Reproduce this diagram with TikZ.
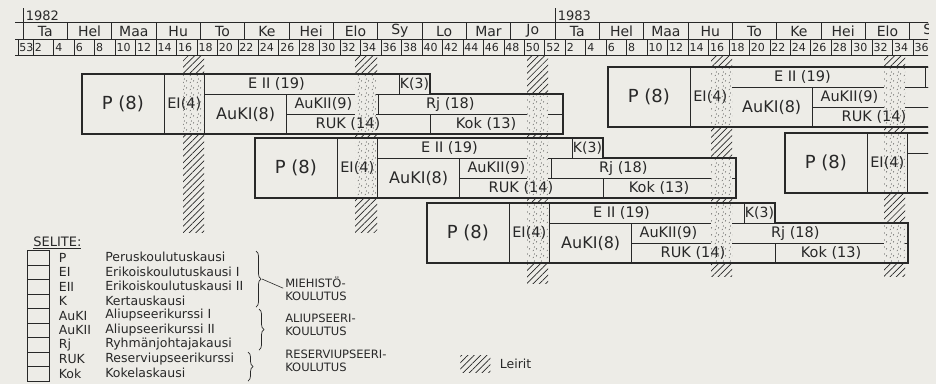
\documentclass[tikz,border=0pt]{standalone}
\usepackage{fontspec}
\setmainfont{DejaVu Sans}
\usepackage{tikz}
\usetikzlibrary{positioning, calc, patterns.meta, decorations.pathreplacing}
\definecolor{tausta}{RGB}{237,236,231}
\definecolor{muste}{RGB}{40,40,40}
\newcommand{\vk}{10.23}
\pgfdeclarepattern{
  name=pisteet,
  bottom left={\pgfpoint{0pt}{0pt}},
  top right={\pgfpoint{7pt}{7pt}},
  tile size={\pgfpoint{7pt}{7pt}},
  code={
    \pgfsetlinewidth{0.5pt}
    \pgfpathmoveto{\pgfpoint{1pt}{1pt}}\pgfpathlineto{\pgfpoint{1.8pt}{2.4pt}}
    \pgfpathmoveto{\pgfpoint{4.6pt}{2.8pt}}\pgfpathlineto{\pgfpoint{5.4pt}{4.2pt}}
    \pgfpathmoveto{\pgfpoint{2.2pt}{4.8pt}}\pgfpathlineto{\pgfpoint{3pt}{6.2pt}}
    \pgfusepath{stroke}
  }
}

\begin{document}
\begin{tikzpicture}[x=1pt, y=-1pt, color=muste, line width=0.6pt,
            kurssi/.style={draw=muste, fill=tausta, line width=0.6pt, inner sep=0pt, outer sep=0pt, anchor=north west, minimum height=20pt},
            nimi/.style={inner sep=0pt, font=\fontsize{14.5}{15}\selectfont},
            reuna/.style={draw=muste, line width=1.4pt, line join=miter},
            leiri/.style={pattern={Lines[angle=45,distance=4.5pt,line width=0.7pt]}, pattern color=muste},
            pilkut/.style={pattern=pisteet, pattern color=muste!80},
            kuukausi/.style={inner sep=0pt, font=\fontsize{14}{14}\selectfont},
            viikko/.style={inner sep=0pt, anchor=west, font=\fontsize{11}{11}\selectfont},
            selite/.style={inner sep=0pt, anchor=west, font=\fontsize{12.5}{13}\selectfont},
            ryhma/.style={inner sep=0pt, anchor=west, align=left, font=\fontsize{11.5}{12.5}\selectfont},
            sulku/.style={decorate, decoration={brace, amplitude=5pt}, line width=0.7pt}
        ]

            \fill[tausta] (0,0) rectangle (936,384);
            \clip (0,0) rectangle (928,384);

% Year and month row
            \draw[line width=1pt] (15,22) -- (936,22);
            \draw (15,39) -- (936,39);
            \draw[line width=1pt] (15,55) -- (936,55);
            \draw[line width=0.9pt] (23,8) -- (23,39);
            \draw[line width=0.9pt] (555,8) -- (555,39);
            \node[inner sep=0pt, anchor=south west, font=\fontsize{13}{13}\selectfont] (v1982) at (25.5,20.5) {1982};
            \node[inner sep=0pt, anchor=south west, font=\fontsize{13}{13}\selectfont] (v1983) at (557.5,20.5) {1983};

            \foreach \i/\m in {0/Ta,1/Hel,2/Maa,3/Hu,4/To,5/Ke,6/Hei,7/Elo,8/Sy,9/Lo,10/Mar,11/Jo} {
                \draw ({23+44.33*\i},22) -- ({23+44.33*\i},39);
                \node[kuukausi] (kk82-\i) at ({45.2+44.33*\i},31) {\m};
            }
            \foreach \i/\m in {0/Ta,1/Hel,2/Maa,3/Hu,4/To,5/Ke,6/Hei,7/Elo,8/Sy} {
                \draw ({555+44.33*\i},22) -- ({555+44.33*\i},39);
                \node[kuukausi] (kk83-\i) at ({577.2+44.33*\i},31) {\m};
            }

% Week row
            \draw (18,39) -- (18,55);
            \node[viikko] (vk82-0) at (19,47.5) {53};
            \foreach \k in {1,...,26} {
                \pgfmathtruncatemacro\nro{2*\k}
                \draw ({23+\vk*(2*\k-1)},39) -- ({23+\vk*(2*\k-1)},55);
                \node[viikko] (vk82-\k) at ({24.3+\vk*(2*\k-1)},47.5) {\nro};
            }
            \foreach \k in {1,...,18} {
                \pgfmathtruncatemacro\nro{2*\k}
                \draw ({555+\vk*(2*\k-1)},39) -- ({555+\vk*(2*\k-1)},55);
                \node[viikko] (vk83-\k) at ({556.3+\vk*(2*\k-1)},47.5) {\nro};
            }

% Camps
            \fill[leiri] (183,55) rectangle (204,232);
            \fill[leiri] (355,55) rectangle (377,232);
            \fill[leiri] (527,55) rectangle (548,283);
            \fill[leiri] (711,55) rectangle (732,276);
            \fill[leiri] (884,55) rectangle (905,276);

% Training blocks
            \foreach \k/\sx/\sy in {a/82/74, b/255/138, c/427/203, d/608/67, e/785/133} {
                \node[kurssi, minimum width=8*\vk pt, minimum height=60pt] (P\k) at (\sx,\sy) {};
                \node[kurssi, minimum width=4*\vk pt, minimum height=60pt] (EI\k) at (P\k.north east) {};
                \node[kurssi, minimum width=19*\vk pt] (EII\k) at (EI\k.north east) {};
                \node[kurssi, minimum width=3*\vk pt] (K\k) at (EII\k.north east) {};
                \node[kurssi, minimum width=8*\vk pt, minimum height=40pt] (AuKI\k) at (EII\k.south west) {};
                \node[kurssi, minimum width=9*\vk pt] (AuKII\k) at (AuKI\k.north east) {};
                \node[kurssi, minimum width=18*\vk pt] (Rj\k) at (AuKII\k.north east) {};
                \node[kurssi, minimum width=14*\vk pt] (RUK\k) at (AuKII\k.south west) {};
                \node[kurssi, minimum width=13*\vk pt] (Kok\k) at (RUK\k.north east) {};
                \begin{scope}
                    \clip (P\k.north west) -- (K\k.north east) -- (K\k.south east) -- (Rj\k.north east) -- (Kok\k.south east) -- (P\k.south west) -- cycle;
                    \foreach \lx in {183,355,527,711,884} {
                        \fill[tausta] (\lx,0) rectangle (\lx+21,384);
                        \fill[pilkut] (\lx,0) rectangle (\lx+21,384);
                    }
                \end{scope}
                \draw[reuna] (P\k.north west) -- (K\k.north east) -- (K\k.south east) -- (Rj\k.north east) -- (Kok\k.south east) -- (P\k.south west) -- cycle;
            }

% Block labels
            \begin{scope}
                \clip (0,0) rectangle (915,384);
                \foreach \k in {a,b,c,d,e} {
                    \node[nimi, font=\fontsize{18}{18}\selectfont] (Pt\k) at (P\k.center) {P (8)};
                    \node[nimi] (EIt\k) at (EI\k.center) {EI(4)};
                    \node[nimi] (EIIt\k) at ($(EII\k.west)+(7*\vk,0)$) {E II (19)};
                    \node[nimi, font=\fontsize{14}{14}\selectfont] (Kt\k) at (K\k.center) {K(3)};
                    \node[nimi, font=\fontsize{16}{16}\selectfont] (AuKIt\k) at (AuKI\k.center) {AuKI(8)};
                    \node[nimi] (AuKIIt\k) at ($(AuKII\k.west)+(3.6*\vk,0)$) {AuKII(9)};
                    \node[nimi] (Rjt\k) at ($(Rj\k.west)+(7*\vk,0)$) {Rj (18)};
                    \node[nimi] (RUKt\k) at ($(RUK\k.west)+(6*\vk,0)$) {RUK (14)};
                    \node[nimi] (Kokt\k) at ($(Kok\k.west)+(5.5*\vk,0)$) {Kok (13)};
                }
            \end{scope}

% Legend
            \node[selite, font=\fontsize{13}{13}\selectfont] (selite) at (33,243) {\underline{SELITE:}};
            \foreach \i/\lyh/\kuvaus in {0/P/Peruskoulutuskausi, 1/EI/Erikoiskoulutuskausi I, 2/EII/Erikoiskoulutuskausi II, 3/K/Kertauskausi, 4/AuKI/Aliupseerikurssi I, 5/AuKII/Aliupseerikurssi II, 6/Rj/Ryhmänjohtajakausi, 7/RUK/Reserviupseerikurssi, 8/Kok/Kokelaskausi} {
                \node[draw, fill=tausta, minimum width=22pt, minimum height=14.5pt, inner sep=0pt, anchor=north west] (ruutu\i) at (27,{250+14.5*\i}) {};
                \node[selite] (lyh\i) at ([xshift=9pt]ruutu\i.east) {\lyh};
                \node[selite] (sel\i) at (105,{257.25+14.5*\i}) {\kuvaus};
            }
            \draw[sulku] (256,251) -- (256,307);
            \draw[sulku] (259,309) -- (259,350);
            \draw[sulku] (248,352) -- (248,381);
            \coordinate (karki) at (262,279);
            \node[ryhma] (miehisto) at (285,289) {MIEHISTÖ-\\KOULUTUS};
            \node[ryhma] (aliupseeri) at (285,325) {ALIUPSEERI-\\KOULUTUS};
            \node[ryhma] (reservi) at (285,361) {RESERVIUPSEERI-\\KOULUTUS};
            \draw[shorten >=2pt] (karki) -- (miehisto.west);

            \node[leiri, minimum width=30pt, minimum height=17pt, inner sep=0pt, anchor=north west] (leirit) at (460,355) {};
            \node[selite, right=9pt of leirit] (leirittxt) {Leirit};

        \end{tikzpicture}
\end{document}
